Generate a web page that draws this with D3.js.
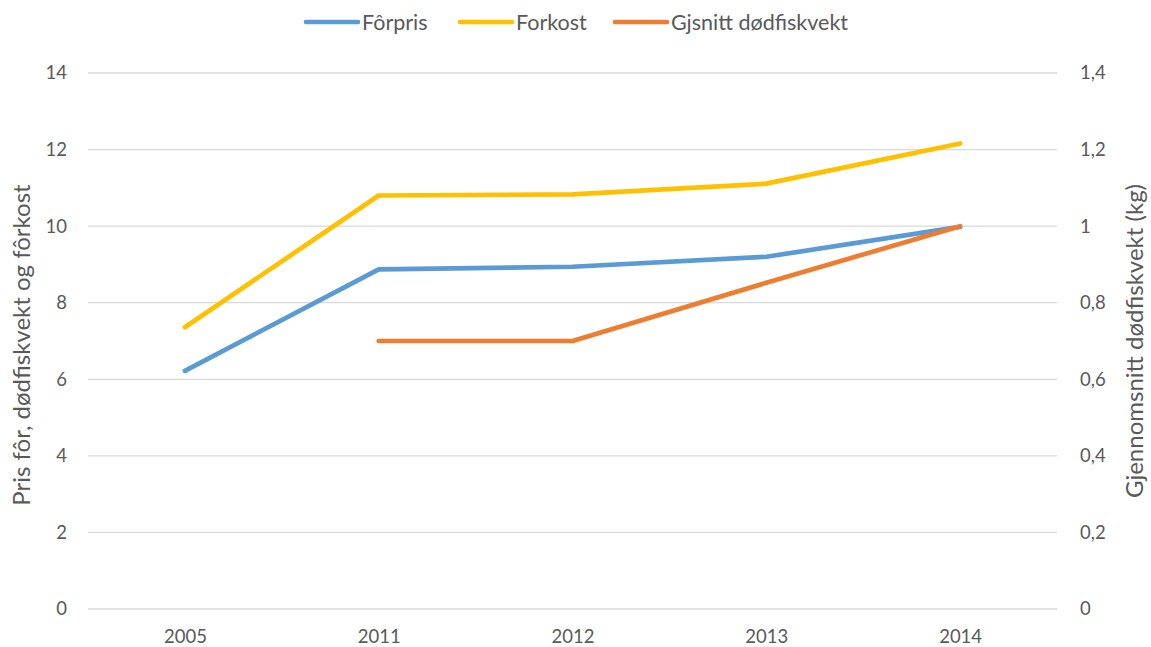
<!DOCTYPE html>
<html>
<head>
<meta charset="utf-8">
<script src="https://cdn.jsdelivr.net/npm/d3@7"></script>
<style>
  body { margin: 0; background: #fff; }
  text { font-family: Lato, "Open Sans", sans-serif; fill: #595959; }
</style>
</head>
<body>
<div id="chart"></div>
<script>
// Data
const years = ["2005", "2011", "2012", "2013", "2014"];
const forpris = [6.22, 8.87, 8.94, 9.2, 9.98];
const forkost = [7.36, 10.8, 10.83, 11.11, 12.16];
const dodfiskvekt = [null, 0.7, 0.7, 0.852, 1.0];
const leftTicks = [0, 2, 4, 6, 8, 10, 12, 14];
const rightTicks = [0, 0.2, 0.4, 0.6, 0.8, 1, 1.2, 1.4];

const width = 1151, height = 647;
const margin = {top: 73, right: 94, bottom: 38, left: 88};

const svg = d3.select("#chart")
  .append("svg")
  .attr("width", width)
  .attr("height", height);

const x = d3.scalePoint()
  .domain(years)
  .range([margin.left, width - margin.right])
  .padding(0.5);
const yL = d3.scaleLinear()
  .domain([0, 14])
  .range([height - margin.bottom, margin.top]);
const yR = d3.scaleLinear()
  .domain([0, 1.4])
  .range([height - margin.bottom, margin.top]);

// Gridlines
svg.append("g")
  .selectAll("line")
  .data(leftTicks)
  .enter()
  .append("line")
  .attr("x1", margin.left).attr("x2", width - margin.right)
  .attr("y1", d => yL(d)).attr("y2", d => yL(d))
  .attr("stroke", "#d9d9d9")
  .attr("stroke-width", 1.3);

// Left axis
const axL = svg.append("g")
  .attr("transform", `translate(${margin.left},0)`)
  .call(d3.axisLeft(yL).tickValues(leftTicks).tickSize(0).tickPadding(21));
axL.select(".domain").remove();
axL.selectAll("text").attr("font-size", "18.5px").style("font-family", null);

// Right axis
const axR = svg.append("g")
  .attr("transform", `translate(${width - margin.right},0)`)
  .call(d3.axisRight(yR).tickValues(rightTicks).tickSize(0).tickPadding(23)
    .tickFormat(d => String(d).replace(".", ",")));
axR.select(".domain").remove();
axR.selectAll("text").attr("font-size", "18.5px").style("font-family", null);

// Bottom axis
const axB = svg.append("g")
  .attr("transform", `translate(0,${height - margin.bottom})`)
  .call(d3.axisBottom(x).tickSize(0).tickPadding(21));
axB.select(".domain").remove();
axB.selectAll("text").attr("font-size", "18.5px").style("font-family", null);

// Lines
const series = [
  {name: "Fôrpris", values: forpris, color: "#5b9bd5", scale: yL},
  {name: "Forkost", values: forkost, color: "#ffc000", scale: yL},
  {name: "Gjsnitt dødfiskvekt", values: dodfiskvekt, color: "#ed7d31", scale: yR}
];

series.forEach(s => {
  const line = d3.line()
    .defined(d => d != null)
    .x((d, i) => x(years[i]))
    .y(d => s.scale(d));
  svg.append("path")
    .datum(s.values)
    .attr("d", line)
    .attr("fill", "none")
    .attr("stroke", s.color)
    .attr("stroke-width", 4.7)
    .attr("stroke-linecap", "round")
    .attr("stroke-linejoin", "round");
});

// Legend
const legendX = [306, 460, 615];
series.forEach((s, i) => {
  const g = svg.append("g").attr("transform", `translate(${legendX[i]},22)`);
  g.append("line")
    .attr("x1", 0).attr("x2", 52)
    .attr("y1", 0).attr("y2", 0)
    .attr("stroke", s.color)
    .attr("stroke-width", 4.7)
    .attr("stroke-linecap", "round");
  g.append("text")
    .attr("x", 56)
    .attr("y", 7.5)
    .attr("font-size", "21.5px")
    .text(s.name);
});

// Axis titles
const plotMid = (margin.top + height - margin.bottom) / 2;
svg.append("text")
  .attr("transform", "rotate(-90)")
  .attr("x", -(plotMid + 4))
  .attr("y", 30)
  .attr("text-anchor", "middle")
  .attr("font-size", "24px")
  .text("Pris fôr, dødfiskvekt og fôrkost");

svg.append("text")
  .attr("transform", "rotate(-90)")
  .attr("x", -plotMid)
  .attr("y", 1143)
  .attr("text-anchor", "middle")
  .attr("font-size", "24px")
  .text("Gjennomsnitt dødfiskvekt (kg)");
</script>
</body>
</html>
